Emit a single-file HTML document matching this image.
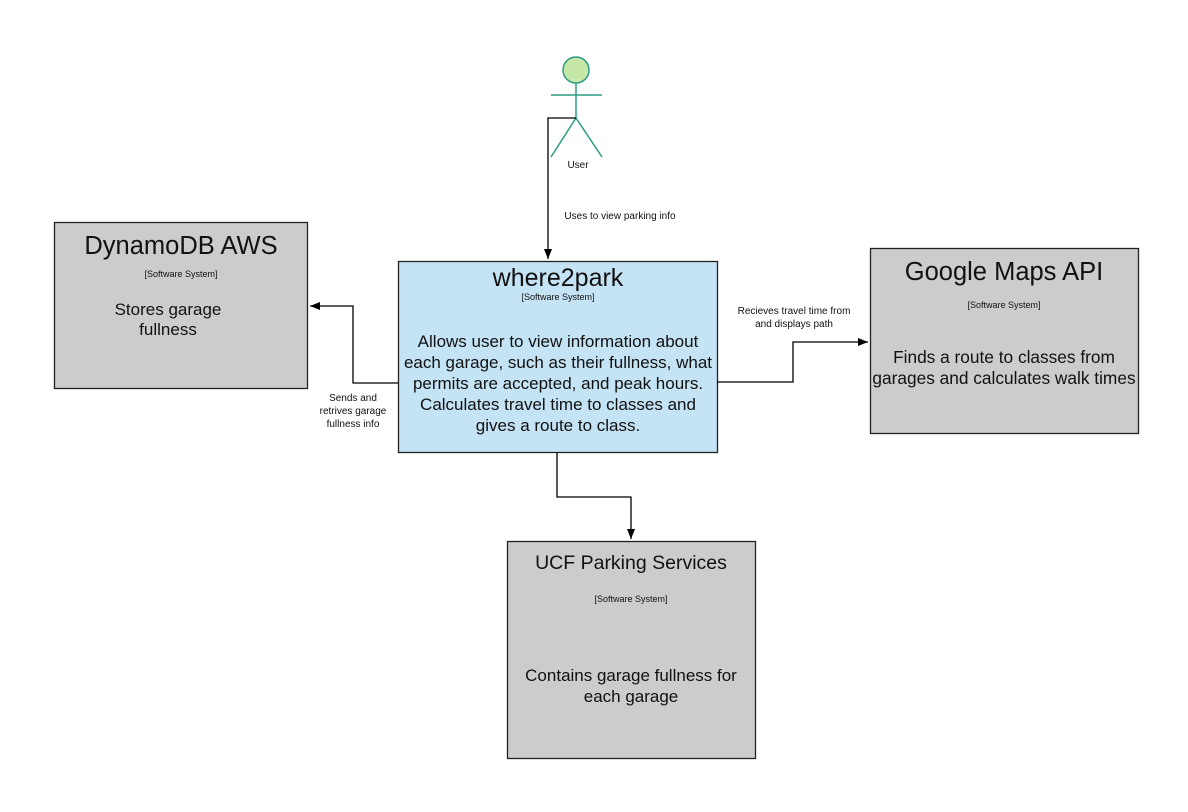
<!DOCTYPE html>
<html><head><meta charset="utf-8"><style>html,body{margin:0;padding:0;background:#fff}svg{display:block}text{font-family:"Liberation Sans",sans-serif;fill:#111}</style></head>
<body>
<svg width="1188" height="812" viewBox="0 0 1188 812" xmlns="http://www.w3.org/2000/svg">
<defs><marker id="a" markerWidth="10" markerHeight="8" refX="10" refY="4" orient="auto" markerUnits="userSpaceOnUse"><path d="M0,0 L10,4 L0,8 z" fill="#000"/></marker></defs>
<g stroke="#2e9c84" stroke-width="1.5" fill="none">
<circle cx="576" cy="70" r="13" fill="#c5e8a8"/>
<line x1="576" y1="83" x2="576" y2="118"/>
<line x1="551" y1="95" x2="602" y2="95"/>
<line x1="576" y1="118" x2="551" y2="157"/>
<line x1="576" y1="118" x2="602" y2="157"/>
</g>
<text x="578" y="168" font-size="10" text-anchor="middle">User</text>
<rect x="54.5" y="222.5" width="253" height="166" fill="#cccccc" stroke="#222" stroke-width="1.3"/>
<rect x="398.5" y="261.5" width="319" height="191" fill="#c4e3f5" stroke="#222" stroke-width="1.3"/>
<rect x="870.5" y="248.5" width="268" height="185" fill="#cccccc" stroke="#222" stroke-width="1.3"/>
<rect x="507.5" y="541.5" width="248" height="217" fill="#cccccc" stroke="#222" stroke-width="1.3"/>
<g stroke="#000" stroke-width="1.3" fill="none">
<polyline points="576,118 548,118 548,259" marker-end="url(#a)"/>
<polyline points="398,383 353,383 353,306 310,306" marker-end="url(#a)"/>
<polyline points="717,382 793,382 793,342 868,342" marker-end="url(#a)"/>
<polyline points="557,452 557,497 631,497 631,539" marker-end="url(#a)"/>
</g>
<text x="620" y="219" font-size="10" text-anchor="middle">Uses to view parking info</text>
<text x="353" y="401" font-size="10" text-anchor="middle">Sends and</text>
<text x="353" y="414" font-size="10" text-anchor="middle">retrives garage</text>
<text x="353" y="427" font-size="10" text-anchor="middle">fullness info</text>
<text x="794" y="314" font-size="10" text-anchor="middle">Recieves travel time from</text>
<text x="794" y="327" font-size="10" text-anchor="middle">and displays path</text>
<text x="181" y="254" font-size="25.5" text-anchor="middle">DynamoDB AWS</text>
<text x="181" y="277" font-size="9" text-anchor="middle">[Software System]</text>
<text x="168" y="315" font-size="17" text-anchor="middle">Stores garage</text>
<text x="168" y="335" font-size="17" text-anchor="middle">fullness</text>
<text x="558" y="286" font-size="25" text-anchor="middle">where2park</text>
<text x="558" y="300" font-size="9" text-anchor="middle">[Software System]</text>
<text x="558" y="347" font-size="17" text-anchor="middle">Allows user to view information about</text>
<text x="558" y="368" font-size="17" text-anchor="middle">each garage, such as their fullness, what</text>
<text x="558" y="389" font-size="17" text-anchor="middle">permits are accepted, and peak hours.</text>
<text x="558" y="410" font-size="17" text-anchor="middle">Calculates travel time to classes and</text>
<text x="558" y="431" font-size="17" text-anchor="middle">gives a route to class.</text>
<text x="1004" y="280" font-size="25.5" text-anchor="middle">Google Maps API</text>
<text x="1004" y="308" font-size="9" text-anchor="middle">[Software System]</text>
<text x="1004" y="363" font-size="17.3" text-anchor="middle">Finds a route to classes from</text>
<text x="1004" y="384" font-size="17.3" text-anchor="middle">garages and calculates walk times</text>
<text x="631" y="569" font-size="19.5" text-anchor="middle">UCF Parking Services</text>
<text x="631" y="602" font-size="9" text-anchor="middle">[Software System]</text>
<text x="631" y="681" font-size="17" text-anchor="middle">Contains garage fullness for</text>
<text x="631" y="702" font-size="17" text-anchor="middle">each garage</text>
</svg>
</body></html>
